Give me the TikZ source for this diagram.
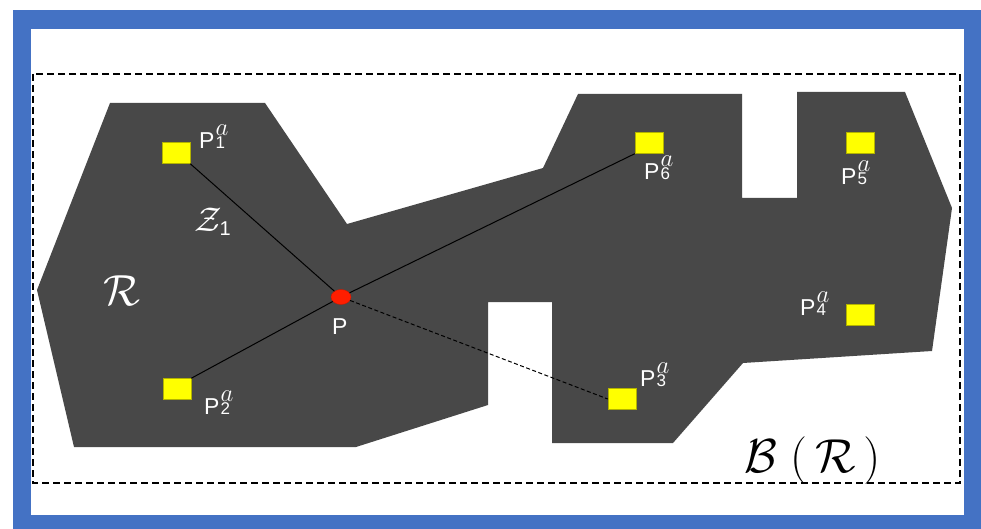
\documentclass[tikz,border=0pt]{standalone}
\usepackage{fontspec}
\setmainfont{Liberation Sans}
\usetikzlibrary{shapes.geometric, positioning}
\definecolor{frameblue}{RGB}{68, 114, 196}
\definecolor{regiongray}{RGB}{72, 72, 72}
\definecolor{pointred}{RGB}{255, 30, 0}
\definecolor{anchoryellow}{RGB}{255, 255, 0}

% math at a large size
\newcommand{\bigmath}[2]{\scalebox{#1}{\fontsize{20.74}{20.74}\selectfont$#2$}}
% label P^a_i
\newcommand{\plab}[1]{P\rlap{\kern1pt\raisebox{13pt}{\bigmath{1.2}{a}}}\kern1pt{\fontsize{17}{17}\selectfont #1}}

\begin{document}
\begin{tikzpicture}[
    x=1pt, y=-1pt,
    region/.style={fill=regiongray, draw=none},
    bbox/.style={draw=black, line width=2pt, dash pattern=on 7pt off 4pt},
    anchorpt/.style={rectangle, minimum width=28pt, minimum height=21pt, inner sep=0pt, fill=anchoryellow, draw=anchoryellow!70!black, line width=0.4pt},
    agent/.style={ellipse, minimum width=20pt, minimum height=15pt, inner sep=0pt, fill=pointred, draw=pointred!80!black, line width=0.4pt},
    lab/.style={anchor=base west, inner sep=0pt, text=white, font=\fontsize{23}{23}\selectfont},
    link/.style={draw=black, line width=1pt},
    dlink/.style={draw=black, line width=1pt, dash pattern=on 4pt off 2.5pt}
]
\useasboundingbox (0,0) rectangle (981,529);

% Frame
\fill[frameblue] (13,10) rectangle (981,529);
\fill[white] (31,29) rectangle (964,515);
\draw[bbox] (33,74) rectangle (960,483);

% Region R
\path[region] (37,290) -- (110,103) -- (265,103) -- (347,224) -- (543,168)
    -- (578,94) -- (742,94) -- (742,198) -- (797,198) -- (797,92) -- (905,92)
    -- (952,208) -- (932,351) -- (743,363) -- (673,443) -- (552,443)
    -- (552,302) -- (488,302) -- (488,405) -- (356,447) -- (74,447) -- cycle;

% Anchors
\node (sq1) [anchorpt] at (176,153) {};
\node (sq2) [anchorpt] at (177,389) {};
\node (sq3) [anchorpt] at (622,399) {};
\node (sq4) [anchorpt] at (860,315) {};
\node (sq5) [anchorpt] at (860,143) {};
\node (sq6) [anchorpt] at (649,143) {};

% Point P
\node (pnt) [agent] at (341,297) {};

% Links
\draw [link] (pnt) -- (sq1.south east);
\draw [link] (pnt) -- (sq2.north east);
\draw [link] (pnt) -- (sq6.south west);
\draw [dlink] (pnt) -- (sq3.west);

% Labels
\node (lab1) [lab] at (199,149) {\plab{1}};
\node (lab2) [lab] at (204,414) {\plab{2}};
\node (lab3) [lab] at (640,386) {\plab{3}};
\node (lab4) [lab] at (800,315) {\plab{4}};
\node (lab5) [lab] at (841,185) {\plab{5}};
\node (lab6) [lab] at (644,180) {\plab{6}};
\node (labp) [lab] at (332,334) {P};
\node (labz) [lab] at (194,231) {\bigmath{1.65}{\mathcal{Z}}\kern-2pt\raisebox{-5pt}{\fontsize{20}{20}\selectfont 1}};
\node (labr) [lab] at (103,305) {\bigmath{2.1}{\mathcal{R}}};
\node (labb) [lab, text=black] at (744,472) {\bigmath{2.3}{\mathcal{B}\;(\,\mathcal{R}\,)}};

\end{tikzpicture}
\end{document}
